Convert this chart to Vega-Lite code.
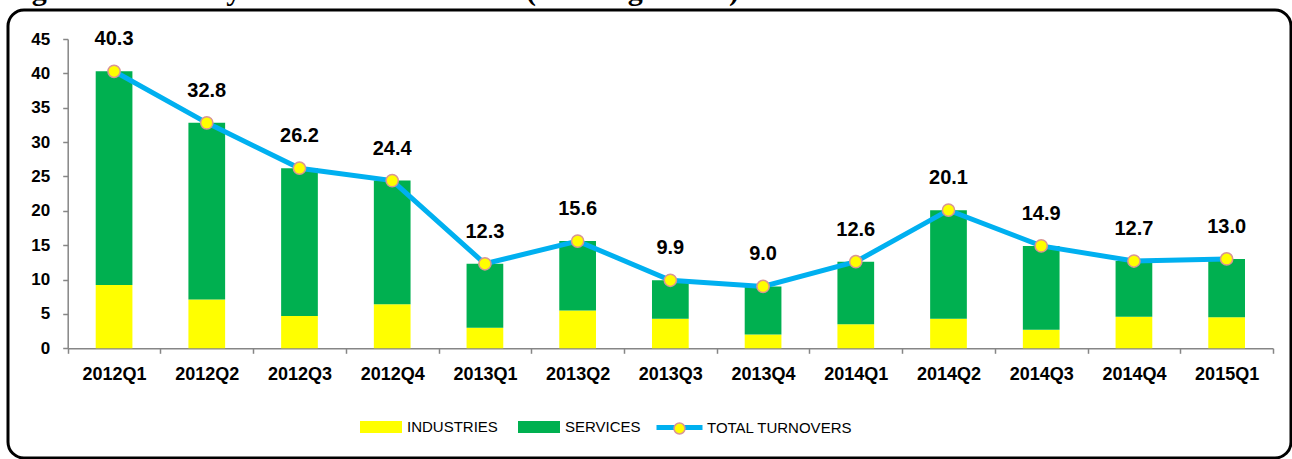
{
  "$schema": "https://vega.github.io/schema/vega-lite/v6.json",
  "autosize": "none",
  "padding": {"left": 8, "top": 10, "right": 1, "bottom": 1},
  "width": 1283,
  "height": 448,
  "background": "white",
  "title": {
    "text": "Figure 4: Industry & Services turnovers (%change YOY)",
    "anchor": "start",
    "frame": "group",
    "orient": "top",
    "baseline": "alphabetic",
    "offset": 0,
    "dy": 20,
    "dx": -3,
    "font": "Liberation Serif",
    "fontSize": 30,
    "fontWeight": "bold",
    "color": "black"
  },
  "config": {
    "view": {"stroke": "black", "strokeWidth": 3, "cornerRadius": 16},
    "axis": {
      "domainColor": "#868686",
      "domainWidth": 1.5,
      "tickColor": "#868686",
      "tickWidth": 1.5,
      "tickSize": 5,
      "grid": false,
      "labelFont": "Liberation Sans",
      "labelFontWeight": "bold",
      "labelColor": "black",
      "title": null
    },
    "legend": {
      "labelFont": "Liberation Sans",
      "labelFontSize": 15,
      "labelColor": "black",
      "title": null
    }
  },
  "datasets": {
    "bars": [
      {"quarter": "2012Q1", "series": "INDUSTRIES", "value": 9.2},
      {"quarter": "2012Q1", "series": "SERVICES", "value": 31.1},
      {"quarter": "2012Q2", "series": "INDUSTRIES", "value": 7.1},
      {"quarter": "2012Q2", "series": "SERVICES", "value": 25.7},
      {"quarter": "2012Q3", "series": "INDUSTRIES", "value": 4.7},
      {"quarter": "2012Q3", "series": "SERVICES", "value": 21.5},
      {"quarter": "2012Q4", "series": "INDUSTRIES", "value": 6.4},
      {"quarter": "2012Q4", "series": "SERVICES", "value": 18.0},
      {"quarter": "2013Q1", "series": "INDUSTRIES", "value": 3.0},
      {"quarter": "2013Q1", "series": "SERVICES", "value": 9.3},
      {"quarter": "2013Q2", "series": "INDUSTRIES", "value": 5.5},
      {"quarter": "2013Q2", "series": "SERVICES", "value": 10.1},
      {"quarter": "2013Q3", "series": "INDUSTRIES", "value": 4.3},
      {"quarter": "2013Q3", "series": "SERVICES", "value": 5.6},
      {"quarter": "2013Q4", "series": "INDUSTRIES", "value": 2.0},
      {"quarter": "2013Q4", "series": "SERVICES", "value": 7.0},
      {"quarter": "2014Q1", "series": "INDUSTRIES", "value": 3.5},
      {"quarter": "2014Q1", "series": "SERVICES", "value": 9.1},
      {"quarter": "2014Q2", "series": "INDUSTRIES", "value": 4.3},
      {"quarter": "2014Q2", "series": "SERVICES", "value": 15.8},
      {"quarter": "2014Q3", "series": "INDUSTRIES", "value": 2.7},
      {"quarter": "2014Q3", "series": "SERVICES", "value": 12.2},
      {"quarter": "2014Q4", "series": "INDUSTRIES", "value": 4.6},
      {"quarter": "2014Q4", "series": "SERVICES", "value": 8.1},
      {"quarter": "2015Q1", "series": "INDUSTRIES", "value": 4.5},
      {"quarter": "2015Q1", "series": "SERVICES", "value": 8.5}
    ],
    "totals": [
      {"quarter": "2012Q1", "series": "TOTAL TURNOVERS", "value": 40.3},
      {"quarter": "2012Q2", "series": "TOTAL TURNOVERS", "value": 32.8},
      {"quarter": "2012Q3", "series": "TOTAL TURNOVERS", "value": 26.2},
      {"quarter": "2012Q4", "series": "TOTAL TURNOVERS", "value": 24.4},
      {"quarter": "2013Q1", "series": "TOTAL TURNOVERS", "value": 12.3},
      {"quarter": "2013Q2", "series": "TOTAL TURNOVERS", "value": 15.6},
      {"quarter": "2013Q3", "series": "TOTAL TURNOVERS", "value": 9.9},
      {"quarter": "2013Q4", "series": "TOTAL TURNOVERS", "value": 9.0},
      {"quarter": "2014Q1", "series": "TOTAL TURNOVERS", "value": 12.6},
      {"quarter": "2014Q2", "series": "TOTAL TURNOVERS", "value": 20.1},
      {"quarter": "2014Q3", "series": "TOTAL TURNOVERS", "value": 14.9},
      {"quarter": "2014Q4", "series": "TOTAL TURNOVERS", "value": 12.7},
      {"quarter": "2015Q1", "series": "TOTAL TURNOVERS", "value": 13.0}
    ]
  },
  "encoding": {
    "x": {
      "field": "quarter",
      "type": "nominal",
      "sort": null,
      "scale": {"range": [59.7, 1265], "paddingInner": 0, "paddingOuter": 0},
      "axis": {
        "orient": "bottom",
        "offset": -109.7,
        "labelAngle": 0,
        "labelFontSize": 18,
        "labelPadding": 12,
        "tickBand": "extent"
      }
    }
  },
  "layer": [
    {
      "data": {"name": "bars"},
      "mark": {"type": "bar", "width": {"band": 0.396}},
      "encoding": {
        "y": {
          "field": "value",
          "type": "quantitative",
          "stack": "zero",
          "scale": {"domain": [0, 45], "range": [338.3, 29], "nice": false, "zero": true},
          "axis": {
            "orient": "left",
            "offset": -59.7,
            "values": [0, 5, 10, 15, 20, 25, 30, 35, 40, 45],
            "labelFontSize": 17,
            "labelPadding": 13
          }
        },
        "fill": {
          "field": "series",
          "type": "nominal",
          "scale": {"domain": ["INDUSTRIES", "SERVICES"], "range": ["#FFFF00", "#00B050"]},
          "legend": {
            "orient": "none",
            "direction": "horizontal",
            "legendX": 352,
            "legendY": 396,
            "symbolType": "M-1,-0.2857H1V0.2857H-1Z",
            "symbolSize": 1764,
            "symbolStrokeWidth": 0,
            "labelOffset": 5,
            "columnPadding": 20
          }
        },
        "order": {"field": "series", "sort": "ascending"}
      }
    },
    {
      "data": {"name": "totals"},
      "mark": {"type": "line", "strokeWidth": 5},
      "encoding": {
        "y": {"field": "value", "type": "quantitative", "scale": {"domain": [0, 45], "range": [338.3, 29], "nice": false}},
        "stroke": {
          "field": "series",
          "type": "nominal",
          "scale": {"domain": ["TOTAL TURNOVERS"], "range": ["#00B0F0"]},
          "legend": {
            "orient": "none",
            "legendX": 646,
            "legendY": 392,
            "symbolType": "stroke",
            "symbolSize": 2116,
            "symbolStrokeWidth": 5,
            "labelOffset": 2
          }
        }
      }
    },
    {
      "data": {"name": "totals"},
      "mark": {"type": "point", "filled": true, "opacity": 1, "size": 150, "stroke": "#D99594", "strokeWidth": 1.5},
      "encoding": {
        "y": {"field": "value", "type": "quantitative", "scale": {"domain": [0, 45], "range": [338.3, 29], "nice": false}},
        "color": {
          "datum": "marker",
          "scale": {"domain": ["marker"], "range": ["#FFFF00"]},
          "legend": {
            "orient": "none",
            "legendX": 664,
            "legendY": 411,
            "symbolType": "circle",
            "symbolSize": 120,
            "symbolStrokeColor": "#D99594",
            "symbolStrokeWidth": 1.5,
            "symbolOpacity": 1,
            "labelExpr": "''"
          }
        }
      }
    },
    {
      "data": {"name": "totals"},
      "mark": {"type": "text", "dy": -32, "font": "Liberation Sans", "fontSize": 20, "fontWeight": "bold", "color": "black", "baseline": "middle"},
      "encoding": {
        "y": {"field": "value", "type": "quantitative", "scale": {"domain": [0, 45], "range": [338.3, 29], "nice": false}},
        "text": {"field": "value", "type": "quantitative", "format": ".1f"}
      }
    }
  ]
}
